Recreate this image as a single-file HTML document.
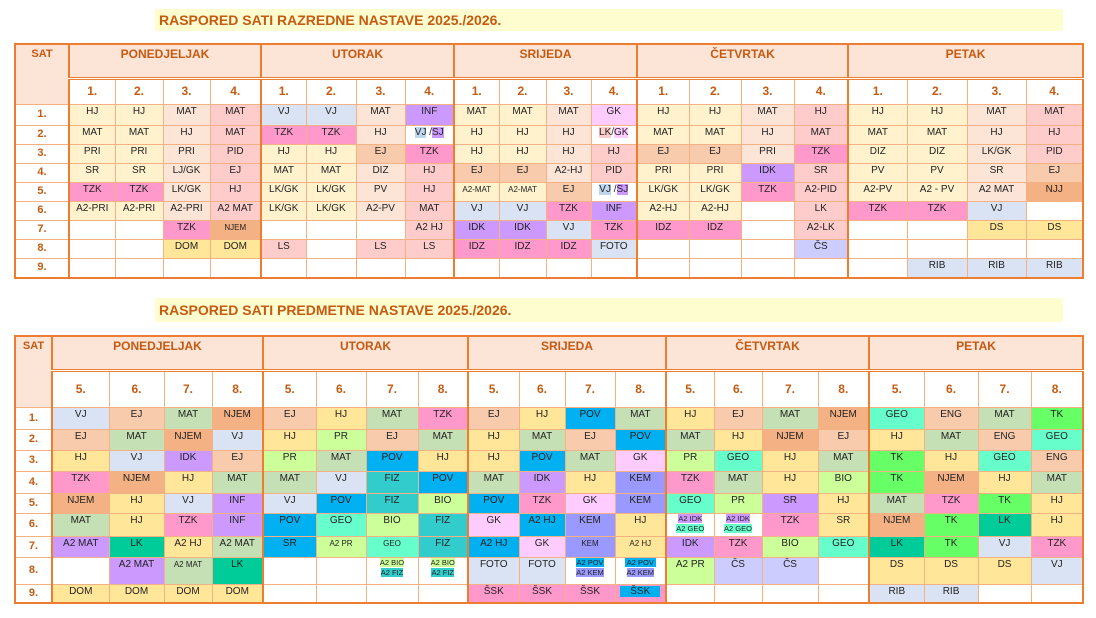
<!DOCTYPE html>
<html><head><meta charset="utf-8">
<style>
body{margin:0;width:1096px;height:618px;background:#fff;position:relative;overflow:hidden;font-family:"Liberation Sans",sans-serif}
.title{position:absolute;left:155px;width:908px;background:#fefdd0;color:#c55a11;font-weight:bold;font-size:14px;box-sizing:border-box;padding-left:4px}
table{position:absolute;left:14px;border-collapse:collapse;table-layout:fixed;border:2px solid #ed7d31}
td{border:1px solid #f4b183;padding:0;text-align:center;vertical-align:top;font-size:10px;color:#222;line-height:13px;overflow:hidden;white-space:nowrap}
td.day{background:#fce4d6;color:#c55a11;font-weight:bold;font-size:12px;vertical-align:top;padding-top:3px;border:2px solid #ed7d31;border-bottom:3px double #ed7d31}
td.num{color:#c55a11;font-weight:bold;font-size:12px;vertical-align:middle;background:#fff}
td.sat{background:#fce4d6;color:#c55a11;font-weight:bold;font-size:11px;padding-top:3px;border-right:2px solid #ed7d31}
td.rn{color:#c55a11;font-weight:bold;font-size:11px;vertical-align:middle;border-right:2px solid #ed7d31;background:#fff}
.L{border-left:2px solid #ed7d31}
.y{background:#fff2cc}.p{background:#fce4d6}.r{background:#ffcccc}.o{background:#f8cbad}.n{background:#f4b183}
.t{background:#ff99cc}.v{background:#dae3f3}.i{background:#cc99ff}.d{background:#ffe699}.c{background:#ccccff}
.g{background:#ffccff}.w{background:#fff}.m{background:#c5e0b4}.q{background:#ccff99}.b{background:#00b0f0}
.f{background:#33cccc}.e{background:#66ffcc}.l{background:#00cc99}.k{background:#66ff66}.ke{background:#9999ff}
.s{font-size:8px}
.s2{font-size:7.5px;line-height:10px}
</style></head><body>
<div class="title" style="top:9px;height:22px;line-height:22px">RASPORED SATI RAZREDNE NASTAVE 2025./2026.</div>
<div class="title" style="top:298px;height:24px;line-height:24px">RASPORED SATI PREDMETNE NASTAVE 2025./2026.</div>

<table style="top:43px;width:1068px">
<colgroup><col style="width:54px"><col style="width:46px"><col style="width:48px"><col style="width:47px"><col style="width:51px"><col style="width:45px"><col style="width:50px"><col style="width:49px"><col style="width:49px"><col style="width:45px"><col style="width:47px"><col style="width:45px"><col style="width:46px"><col style="width:52px"><col style="width:52px"><col style="width:53px"><col style="width:54px"><col style="width:59px"><col style="width:60px"><col style="width:59px"><col style="width:57px"></colgroup>
<tr style="height:34px"><td class="sat" rowspan="2">SAT</td><td class="day" colspan="4">PONEDJELJAK</td><td class="day" colspan="4">UTORAK</td><td class="day" colspan="4">SRIJEDA</td><td class="day" colspan="4">ČETVRTAK</td><td class="day" colspan="4">PETAK</td></tr>
<tr style="height:26px"><td class="num">1.</td><td class="num">2.</td><td class="num">3.</td><td class="num">4.</td><td class="num L">1.</td><td class="num">2.</td><td class="num">3.</td><td class="num">4.</td><td class="num L">1.</td><td class="num">2.</td><td class="num">3.</td><td class="num">4.</td><td class="num L">1.</td><td class="num">2.</td><td class="num">3.</td><td class="num">4.</td><td class="num L">1.</td><td class="num">2.</td><td class="num">3.</td><td class="num">4.</td></tr>
<tr style="height:21px"><td class="rn">1.</td><td class="y">HJ</td><td class="y">HJ</td><td class="p">MAT</td><td class="r">MAT</td><td class="v L">VJ</td><td class="v">VJ</td><td class="p">MAT</td><td class="i">INF</td><td class="y L">MAT</td><td class="y">MAT</td><td class="p">MAT</td><td class="g">GK</td><td class="y L">HJ</td><td class="y">HJ</td><td class="p">MAT</td><td class="r">HJ</td><td class="y L">HJ</td><td class="y">HJ</td><td class="p">MAT</td><td class="r">MAT</td></tr>
<tr style="height:19px"><td class="rn">2.</td><td class="y">MAT</td><td class="y">MAT</td><td class="p">HJ</td><td class="r">MAT</td><td class="t L">TZK</td><td class="t">TZK</td><td class="p">HJ</td><td class="w"><span style="background:#bdd7ee">VJ</span> /<span style="background:#cc99ff">SJ</span></td><td class="y L">HJ</td><td class="y">HJ</td><td class="p">HJ</td><td class="w"><span style="background:#ffcccc">LK</span>/<span style="background:#ffccff">GK</span></td><td class="y L">MAT</td><td class="y">MAT</td><td class="p">HJ</td><td class="r">MAT</td><td class="y L">MAT</td><td class="y">MAT</td><td class="p">HJ</td><td class="r">HJ</td></tr>
<tr style="height:19px"><td class="rn">3.</td><td class="y">PRI</td><td class="y">PRI</td><td class="p">PRI</td><td class="r">PID</td><td class="y L">HJ</td><td class="y">HJ</td><td class="o">EJ</td><td class="t">TZK</td><td class="y L">HJ</td><td class="y">HJ</td><td class="p">HJ</td><td class="r">HJ</td><td class="o L">EJ</td><td class="o">EJ</td><td class="p">PRI</td><td class="t">TZK</td><td class="y L">DIZ</td><td class="y">DIZ</td><td class="p">LK/GK</td><td class="r">PID</td></tr>
<tr style="height:19px"><td class="rn">4.</td><td class="y">SR</td><td class="y">SR</td><td class="p">LJ/GK</td><td class="r">EJ</td><td class="y L">MAT</td><td class="y">MAT</td><td class="p">DIZ</td><td class="r">HJ</td><td class="o L">EJ</td><td class="o">EJ</td><td class="p">A2-HJ</td><td class="r">PID</td><td class="y L">PRI</td><td class="y">PRI</td><td class="i">IDK</td><td class="r">SR</td><td class="y L">PV</td><td class="y">PV</td><td class="p">SR</td><td class="o">EJ</td></tr>
<tr style="height:19px"><td class="rn">5.</td><td class="t">TZK</td><td class="t">TZK</td><td class="p">LK/GK</td><td class="r">HJ</td><td class="y L">LK/GK</td><td class="y">LK/GK</td><td class="p">PV</td><td class="r">HJ</td><td class="y L s">A2-MAT</td><td class="y s">A2-MAT</td><td class="o">EJ</td><td class="w"><span style="background:#bdd7ee">VJ</span> /<span style="background:#cc99ff">SJ</span></td><td class="y L">LK/GK</td><td class="y">LK/GK</td><td class="t">TZK</td><td class="r">A2-PID</td><td class="y L">A2-PV</td><td class="y">A2 - PV</td><td class="p">A2 MAT</td><td class="n">NJJ</td></tr>
<tr style="height:19px"><td class="rn">6.</td><td class="y">A2-PRI</td><td class="y">A2-PRI</td><td class="p">A2-PRI</td><td class="r">A2 MAT</td><td class="y L">LK/GK</td><td class="y">LK/GK</td><td class="p">A2-PV</td><td class="r">MAT</td><td class="v L">VJ</td><td class="v">VJ</td><td class="t">TZK</td><td class="i">INF</td><td class="y L">A2-HJ</td><td class="y">A2-HJ</td><td class="w"></td><td class="r">LK</td><td class="t L">TZK</td><td class="t">TZK</td><td class="v">VJ</td><td class="w"></td></tr>
<tr style="height:19px"><td class="rn">7.</td><td class="w"></td><td class="w"></td><td class="t">TZK</td><td class="n s">NJEM</td><td class="w L"></td><td class="w"></td><td class="w"></td><td class="r">A2 HJ</td><td class="i L">IDK</td><td class="i">IDK</td><td class="v">VJ</td><td class="t">TZK</td><td class="t L">IDZ</td><td class="t">IDZ</td><td class="w"></td><td class="r">A2-LK</td><td class="w L"></td><td class="w"></td><td class="d">DS</td><td class="d">DS</td></tr>
<tr style="height:19px"><td class="rn">8.</td><td class="w"></td><td class="w"></td><td class="d">DOM</td><td class="d">DOM</td><td class="r L">LS</td><td class="w"></td><td class="r">LS</td><td class="r">LS</td><td class="t L">IDZ</td><td class="t">IDZ</td><td class="t">IDZ</td><td class="v">FOTO</td><td class="w L"></td><td class="w"></td><td class="w"></td><td class="c">ČS</td><td class="w L"></td><td class="w"></td><td class="w"></td><td class="w"></td></tr>
<tr style="height:20px"><td class="rn">9.</td><td class="w"></td><td class="w"></td><td class="w"></td><td class="w"></td><td class="w L"></td><td class="w"></td><td class="w"></td><td class="w"></td><td class="w L"></td><td class="w"></td><td class="w"></td><td class="w"></td><td class="w L"></td><td class="w"></td><td class="w"></td><td class="w"></td><td class="w L"></td><td class="v">RIB</td><td class="v">RIB</td><td class="v">RIB</td></tr>
</table>

<table style="top:335px;width:1068px">
<colgroup><col style="width:37px"><col style="width:57px"><col style="width:55px"><col style="width:48px"><col style="width:51px"><col style="width:53px"><col style="width:50px"><col style="width:52px"><col style="width:50px"><col style="width:51px"><col style="width:46px"><col style="width:50px"><col style="width:51px"><col style="width:48px"><col style="width:48px"><col style="width:56px"><col style="width:51px"><col style="width:55px"><col style="width:54px"><col style="width:53px"><col style="width:52px"></colgroup>
<tr style="height:34px"><td class="sat" rowspan="2">SAT</td><td class="day" colspan="4">PONEDJELJAK</td><td class="day" colspan="4">UTORAK</td><td class="day" colspan="4">SRIJEDA</td><td class="day" colspan="4">ČETVRTAK</td><td class="day" colspan="4">PETAK</td></tr>
<tr style="height:37px"><td class="num">5.</td><td class="num">6.</td><td class="num">7.</td><td class="num">8.</td><td class="num L">5.</td><td class="num">6.</td><td class="num">7.</td><td class="num">8.</td><td class="num L">5.</td><td class="num">6.</td><td class="num">7.</td><td class="num">8.</td><td class="num L">5.</td><td class="num">6.</td><td class="num">7.</td><td class="num">8.</td><td class="num L">5.</td><td class="num">6.</td><td class="num">7.</td><td class="num">8.</td></tr>
<tr style="height:22px"><td class="rn">1.</td><td class="v">VJ</td><td class="o">EJ</td><td class="m">MAT</td><td class="n">NJEM</td><td class="o L">EJ</td><td class="d">HJ</td><td class="m">MAT</td><td class="t">TZK</td><td class="o L">EJ</td><td class="d">HJ</td><td class="b">POV</td><td class="m">MAT</td><td class="d L">HJ</td><td class="o">EJ</td><td class="m">MAT</td><td class="n">NJEM</td><td class="e L">GEO</td><td class="o">ENG</td><td class="m">MAT</td><td class="k">TK</td></tr>
<tr style="height:21px"><td class="rn">2.</td><td class="o">EJ</td><td class="m">MAT</td><td class="n">NJEM</td><td class="v">VJ</td><td class="d L">HJ</td><td class="q">PR</td><td class="o">EJ</td><td class="m">MAT</td><td class="d L">HJ</td><td class="m">MAT</td><td class="o">EJ</td><td class="b">POV</td><td class="m L">MAT</td><td class="d">HJ</td><td class="n">NJEM</td><td class="o">EJ</td><td class="d L">HJ</td><td class="m">MAT</td><td class="o">ENG</td><td class="e">GEO</td></tr>
<tr style="height:21px"><td class="rn">3.</td><td class="d">HJ</td><td class="v">VJ</td><td class="i">IDK</td><td class="o">EJ</td><td class="q L">PR</td><td class="m">MAT</td><td class="b">POV</td><td class="d">HJ</td><td class="d L">HJ</td><td class="b">POV</td><td class="m">MAT</td><td class="g">GK</td><td class="q L">PR</td><td class="e">GEO</td><td class="d">HJ</td><td class="m">MAT</td><td class="k L">TK</td><td class="d">HJ</td><td class="e">GEO</td><td class="o">ENG</td></tr>
<tr style="height:22px"><td class="rn">4.</td><td class="t">TZK</td><td class="n">NJEM</td><td class="d">HJ</td><td class="m">MAT</td><td class="m L">MAT</td><td class="v">VJ</td><td class="f">FIZ</td><td class="b">POV</td><td class="m L">MAT</td><td class="i">IDK</td><td class="d">HJ</td><td class="ke">KEM</td><td class="t L">TZK</td><td class="m">MAT</td><td class="d">HJ</td><td class="q">BIO</td><td class="k L">TK</td><td class="n">NJEM</td><td class="d">HJ</td><td class="m">MAT</td></tr>
<tr style="height:20px"><td class="rn">5.</td><td class="n">NJEM</td><td class="d">HJ</td><td class="v">VJ</td><td class="i">INF</td><td class="v L">VJ</td><td class="b">POV</td><td class="f">FIZ</td><td class="q">BIO</td><td class="b L">POV</td><td class="t">TZK</td><td class="g">GK</td><td class="ke">KEM</td><td class="e L">GEO</td><td class="q">PR</td><td class="i">SR</td><td class="d">HJ</td><td class="m L">MAT</td><td class="t">TZK</td><td class="k">TK</td><td class="d">HJ</td></tr>
<tr style="height:23px"><td class="rn">6.</td><td class="m">MAT</td><td class="d">HJ</td><td class="t">TZK</td><td class="i">INF</td><td class="b L">POV</td><td class="e">GEO</td><td class="q">BIO</td><td class="f">FIZ</td><td class="g L">GK</td><td class="b">A2 HJ</td><td class="ke">KEM</td><td class="d">HJ</td><td class="w L s2"><span style="background:#cc99ff">A2 IDK</span><br><span style="background:#66ffcc">A2 GEO</span></td><td class="w s2"><span style="background:#cc99ff">A2 IDK</span><br><span style="background:#66ffcc">A2 GEO</span></td><td class="t">TZK</td><td class="d">SR</td><td class="n L">NJEM</td><td class="k">TK</td><td class="l">LK</td><td class="d">HJ</td></tr>
<tr style="height:21px"><td class="rn">7.</td><td class="i">A2 MAT</td><td class="l">LK</td><td class="d">A2 HJ</td><td class="m">A2 MAT</td><td class="b L">SR</td><td class="q s">A2 PR</td><td class="e s">GEO</td><td class="f">FIZ</td><td class="b L">A2 HJ</td><td class="g">GK</td><td class="ke s">KEM</td><td class="d s">A2 HJ</td><td class="i L">IDK</td><td class="t">TZK</td><td class="q">BIO</td><td class="e">GEO</td><td class="l L">LK</td><td class="k">TK</td><td class="v">VJ</td><td class="t">TZK</td></tr>
<tr style="height:27px"><td class="rn">8.</td><td class="w"></td><td class="i">A2 MAT</td><td class="m s">A2 MAT</td><td class="l">LK</td><td class="w L"></td><td class="w"></td><td class="w s2"><span style="background:#ccff99">A2 BIO</span><br><span style="background:#33cccc">A2 FIZ</span></td><td class="w s2"><span style="background:#ccff99">A2 BIO</span><br><span style="background:#33cccc">A2 FIZ</span></td><td class="v L">FOTO</td><td class="v">FOTO</td><td class="w s2"><span style="background:#00b0f0">A2 POV</span><br><span style="background:#9999ff">A2 KEM</span></td><td class="w s2"><span style="background:#00b0f0">&nbsp;A2 POV&nbsp;</span><br><span style="background:#9999ff">A2 KEM</span></td><td class="q L">A2 PR</td><td class="c">ČS</td><td class="c">ČS</td><td class="w"></td><td class="d L">DS</td><td class="d">DS</td><td class="d">DS</td><td class="v">VJ</td></tr>
<tr style="height:19px"><td class="rn">9.</td><td class="d">DOM</td><td class="d">DOM</td><td class="d">DOM</td><td class="d">DOM</td><td class="w L"></td><td class="w"></td><td class="w"></td><td class="w"></td><td class="t L">ŠSK</td><td class="t">ŠSK</td><td class="t">ŠSK</td><td class="t"><span style="background:#00b0f0;padding:0 10px">ŠSK</span></td><td class="w L"></td><td class="w"></td><td class="w"></td><td class="w"></td><td class="v L">RIB</td><td class="v">RIB</td><td class="w"></td><td class="w"></td></tr>
</table>
</body></html>
